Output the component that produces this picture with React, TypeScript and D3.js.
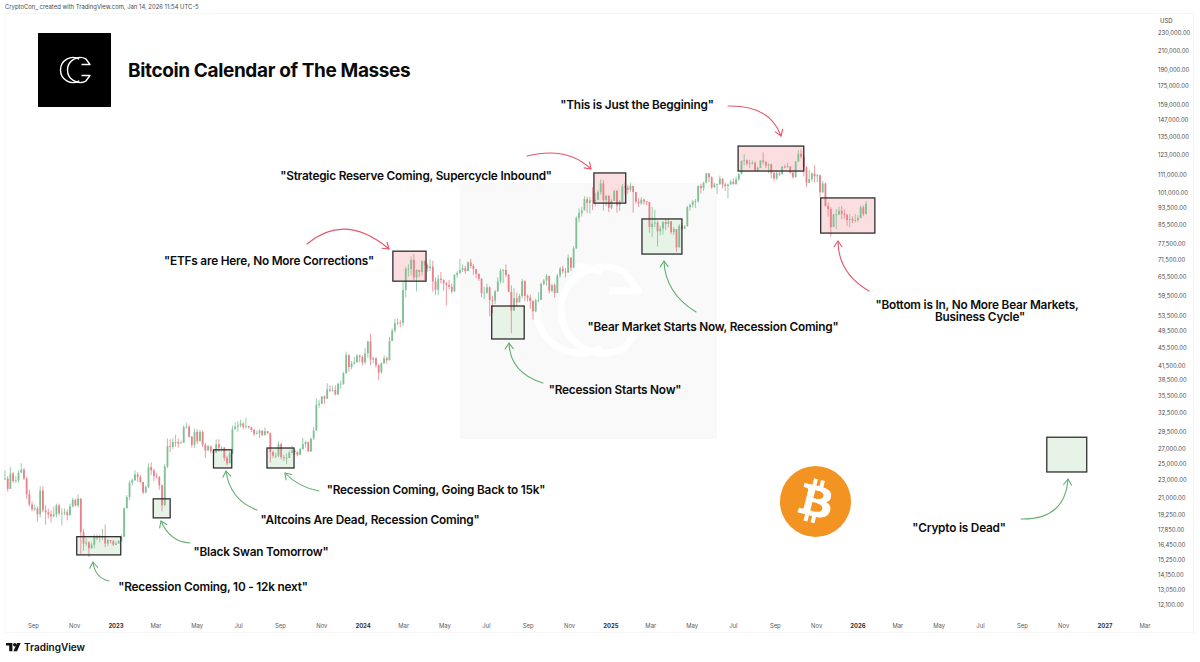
import * as d3 from 'd3';

// values in thousand USD, one bar every 4 days starting at firstBar
const firstBar = new Date(2022, 6, 21);

const closes = [
  23.2, 22.0, 23.8, 22.9, 23.0, 23.9, 24.3, 23.2, 21.4, 20.3,
  19.8, 19.9, 19.3, 21.8, 19.7, 19.5, 19.3, 19.1, 19.3, 20.2,
  19.4, 19.4, 19.5, 19.2, 20.1, 20.8, 20.2, 20.9, 17.6, 16.6,
  16.7, 16.2, 16.5, 17.2, 17.1, 17.2, 17.2, 16.6, 16.9, 16.8,
  16.5, 16.6, 16.8, 17.2, 19.9, 21.1, 22.7, 23.0, 23.7, 23.4,
  22.8, 21.6, 22.2, 24.6, 24.2, 23.5, 23.4, 22.4, 20.2, 24.7,
  27.4, 27.3, 28.0, 28.0, 27.8, 27.9, 30.2, 30.3, 28.8, 27.6,
  29.5, 28.1, 29.5, 27.6, 26.8, 27.4, 26.7, 26.5, 27.7, 27.2,
  27.2, 25.8, 25.1, 26.4, 29.9, 30.3, 30.5, 30.8, 30.3, 30.4,
  30.2, 29.8, 29.2, 29.3, 29.7, 29.0, 29.6, 29.3, 26.6, 26.1,
  26.1, 27.7, 25.9, 25.8, 25.8, 26.5, 26.8, 26.6, 26.2, 27.0,
  27.7, 28.0, 26.7, 28.5, 29.7, 33.9, 34.1, 35.4, 35.0, 36.7,
  36.5, 36.6, 35.8, 37.8, 37.8, 39.9, 43.8, 41.2, 41.9, 42.2,
  43.7, 43.4, 42.2, 44.2, 47.0, 42.8, 43.1, 41.6, 40.1, 42.0,
  43.1, 42.7, 47.1, 49.7, 51.6, 51.8, 51.7, 61.2, 68.3, 68.3,
  71.5, 65.3, 67.9, 67.2, 71.0, 69.6, 68.5, 69.1, 64.0, 61.3,
  64.9, 64.5, 63.4, 62.9, 62.3, 60.8, 66.2, 66.9, 67.9, 68.5,
  67.5, 70.6, 69.3, 68.2, 66.6, 64.9, 60.3, 60.4, 62.1, 58.2,
  58.0, 60.8, 64.0, 67.6, 67.9, 66.2, 60.7, 55.1, 58.7, 57.5,
  59.4, 64.1, 59.4, 58.9, 57.9, 54.9, 58.1, 58.2, 63.2, 64.3,
  65.8, 61.0, 62.8, 60.3, 66.0, 68.4, 67.4, 67.0, 72.3, 68.7,
  75.9, 88.7, 91.0, 92.3, 97.7, 95.9, 97.2, 96.9, 97.4, 101.4,
  106.0, 97.3, 99.4, 93.5, 96.9, 102.0, 94.7, 96.5, 104.4, 103.7,
  102.6, 104.7, 101.4, 96.5, 95.7, 97.5, 96.6, 96.3, 84.7, 86.2,
  86.7, 82.9, 84.0, 86.9, 86.0, 87.2, 82.5, 83.8, 76.3, 85.3,
  84.0, 85.0, 93.9, 95.0, 96.5, 96.8, 104.6, 103.5, 106.4, 111.7,
  109.4, 103.9, 105.4, 105.6, 108.6, 105.5, 104.6, 105.4, 107.0, 105.7,
  108.2, 111.2, 119.0, 119.5, 117.4, 117.6, 117.9, 113.3, 114.9, 119.3,
  118.4, 116.2, 116.9, 111.8, 108.8, 111.7, 111.1, 115.5, 115.4, 115.7,
  112.0, 109.6, 118.6, 123.5, 121.7, 115.2, 106.4, 108.4, 111.6, 110.0,
  110.6, 101.3, 106.0, 94.5, 92.9, 84.7, 90.4, 90.4, 92.1, 90.6,
  90.2, 87.8, 88.2, 87.6, 87.8, 88.7, 93.8, 90.5, 95.5,
];

const highs = [
  24.2, 23.5, 24.6, 24.0, 23.5, 24.2, 25.1, 24.5, 23.4, 21.9,
  20.6, 20.3, 20.1, 22.3, 22.3, 20.2, 19.9, 19.7, 20.1, 20.4,
  20.4, 19.9, 19.9, 19.8, 20.4, 21.0, 20.9, 21.4, 21.0, 17.9,
  17.1, 16.8, 16.7, 17.4, 17.4, 17.4, 17.9, 18.3, 17.0, 16.9,
  16.9, 16.8, 16.9, 17.4, 20.0, 21.3, 23.0, 23.2, 24.2, 24.0,
  23.6, 22.6, 22.4, 25.1, 25.2, 24.4, 23.9, 23.5, 22.5, 25.0,
  28.5, 28.4, 28.6, 29.1, 28.5, 28.2, 30.5, 30.9, 30.6, 28.9,
  30.0, 29.9, 29.8, 29.7, 27.9, 27.6, 27.5, 26.9, 28.4, 28.4,
  27.4, 27.3, 26.1, 26.7, 30.5, 31.0, 31.2, 31.4, 31.0, 31.7,
  30.4, 30.3, 30.0, 29.7, 29.9, 29.7, 30.2, 29.6, 29.4, 26.8,
  26.5, 28.1, 27.9, 26.2, 26.4, 26.8, 27.5, 27.0, 26.7, 27.2,
  28.6, 28.2, 28.1, 28.6, 30.2, 35.0, 34.8, 35.5, 35.6, 37.9,
  37.5, 37.4, 37.5, 38.0, 38.4, 40.2, 44.6, 44.0, 42.5, 43.4,
  44.0, 43.9, 43.8, 45.5, 47.2, 48.9, 43.5, 43.3, 41.8, 42.2,
  43.8, 43.5, 48.1, 50.2, 52.8, 52.9, 52.4, 63.8, 69.0, 69.9,
  72.8, 73.7, 68.2, 67.9, 71.6, 71.3, 70.3, 71.8, 71.2, 65.3,
  66.2, 67.2, 64.7, 63.9, 64.5, 63.4, 66.5, 67.5, 71.9, 69.9,
  69.4, 71.0, 71.9, 70.0, 67.9, 66.5, 65.0, 62.2, 63.2, 62.4,
  59.4, 61.3, 65.3, 68.4, 68.3, 69.9, 66.5, 62.7, 61.8, 60.5,
  60.0, 64.9, 64.4, 59.9, 59.8, 58.0, 58.6, 60.6, 63.6, 64.8,
  66.5, 66.0, 63.2, 63.4, 66.5, 69.0, 69.4, 68.5, 73.6, 72.6,
  76.8, 89.5, 93.3, 94.0, 99.2, 98.9, 98.8, 103.9, 101.0, 102.5,
  108.3, 107.8, 99.9, 99.9, 97.8, 102.7, 102.5, 97.3, 105.8, 106.9,
  105.2, 106.4, 102.5, 101.0, 98.2, 98.8, 98.0, 96.9, 96.5, 94.0,
  92.5, 87.5, 85.3, 87.4, 88.6, 88.4, 87.4, 84.7, 83.5, 85.9,
  86.4, 85.5, 94.5, 95.6, 97.4, 97.9, 104.9, 105.8, 107.0, 111.9,
  111.0, 110.0, 106.6, 106.0, 110.4, 108.9, 106.5, 106.0, 108.0, 108.8,
  109.7, 112.0, 119.4, 123.2, 120.0, 119.7, 119.2, 118.9, 115.5, 119.4,
  124.4, 119.0, 117.6, 117.4, 113.3, 113.4, 112.7, 116.0, 116.8, 117.9,
  116.0, 113.5, 119.0, 125.7, 126.2, 122.8, 115.9, 113.8, 112.2, 116.4,
  111.2, 110.9, 107.5, 106.5, 96.0, 93.8, 90.5, 92.9, 94.1, 94.5,
  92.8, 90.6, 90.5, 89.5, 90.5, 90.0, 94.7, 94.7, 96.8,
];

const lows = [
  23.0, 21.7, 22.0, 22.7, 22.7, 22.7, 23.9, 23.0, 20.9, 20.1,
  19.6, 19.6, 18.6, 19.0, 19.5, 18.3, 18.9, 18.5, 19.0, 19.0,
  19.2, 18.2, 19.2, 18.7, 19.2, 20.0, 20.1, 20.0, 15.7, 16.0,
  16.4, 15.5, 16.2, 16.2, 16.9, 16.7, 16.9, 16.3, 16.4, 16.6,
  16.4, 16.5, 16.6, 16.8, 17.3, 20.4, 20.8, 22.4, 22.9, 22.8,
  22.7, 21.4, 21.5, 22.1, 23.6, 22.9, 23.2, 21.9, 19.6, 20.3,
  24.5, 26.6, 27.0, 27.3, 27.2, 27.8, 28.0, 30.0, 28.6, 27.2,
  27.2, 27.7, 28.1, 27.3, 25.8, 26.8, 26.4, 26.3, 26.5, 26.6,
  26.7, 25.4, 24.8, 25.2, 26.3, 29.9, 29.5, 30.2, 29.9, 30.0,
  30.0, 29.5, 28.9, 29.1, 28.6, 28.9, 29.0, 29.2, 25.2, 25.8,
  25.8, 25.9, 25.6, 25.4, 25.0, 25.8, 26.4, 26.2, 26.0, 26.5,
  26.9, 27.2, 26.6, 26.6, 28.3, 29.8, 33.4, 34.1, 34.1, 35.0,
  36.2, 36.3, 35.6, 35.6, 36.8, 37.6, 39.8, 40.2, 40.7, 41.7,
  42.2, 42.2, 41.5, 41.8, 43.2, 41.6, 42.0, 41.1, 38.5, 39.8,
  41.9, 41.9, 42.6, 47.7, 49.2, 51.0, 50.6, 50.9, 59.0, 65.6,
  66.0, 64.5, 60.8, 65.5, 66.0, 64.5, 67.3, 67.5, 60.7, 59.7,
  59.6, 63.3, 61.0, 56.5, 61.5, 60.2, 60.7, 65.1, 66.5, 67.2,
  66.6, 67.5, 68.5, 66.2, 65.1, 64.2, 59.0, 58.4, 60.0, 53.5,
  54.3, 57.0, 60.7, 63.3, 63.5, 65.5, 60.7, 49.0, 55.0, 56.2,
  57.8, 58.7, 57.9, 57.7, 55.6, 52.6, 54.6, 57.5, 59.2, 62.7,
  62.6, 60.2, 60.5, 58.9, 60.3, 65.2, 66.6, 65.3, 67.6, 67.5,
  68.5, 75.6, 86.7, 89.4, 92.6, 91.0, 90.8, 92.5, 94.2, 97.3,
  100.0, 92.2, 94.4, 91.5, 92.8, 97.0, 91.2, 92.0, 96.8, 100.0,
  100.5, 101.5, 91.2, 95.7, 94.0, 94.9, 95.1, 94.8, 82.2, 80.5,
  84.7, 76.6, 81.2, 81.5, 83.5, 84.6, 81.6, 81.3, 74.5, 78.9,
  83.2, 83.9, 85.0, 92.2, 93.6, 93.5, 96.0, 100.7, 102.0, 106.1,
  106.7, 103.1, 103.7, 100.4, 105.2, 103.4, 102.0, 98.2, 106.8, 105.3,
  105.2, 107.4, 111.3, 116.3, 116.3, 114.7, 116.9, 112.7, 112.7, 114.9,
  117.0, 114.7, 111.7, 108.7, 107.3, 108.0, 110.0, 111.0, 114.5, 115.0,
  111.5, 108.6, 109.0, 118.5, 120.5, 110.0, 104.0, 106.1, 107.0, 106.5,
  106.7, 99.0, 100.8, 94.0, 89.3, 80.6, 86.2, 83.9, 90.1, 88.1,
  88.5, 85.3, 84.5, 86.4, 86.7, 87.0, 90.0, 89.6, 90.5,
];

const priceTicks = [
  230000, 210000, 190000, 175000, 159000, 147000, 135000, 123000, 111000, 101000,
  93500, 85500, 77500, 71500, 65500, 59500, 53500, 49500, 45500, 41500,
  38500, 35500, 32500, 29500, 27000, 25000, 23000, 21000, 19250, 17850,
  16450, 15250, 14150, 13050, 12100,
];

const monthTicks = [
  '2022-09', '2022-11', '2023-01', '2023-03', '2023-05', '2023-07', '2023-09', '2023-11',
  '2024-01', '2024-03', '2024-05', '2024-07', '2024-09', '2024-11',
  '2025-01', '2025-03', '2025-05', '2025-07', '2025-09', '2025-11',
  '2026-01', '2026-03', '2026-05', '2026-07', '2026-09', '2026-11',
  '2027-01', '2027-03',
];

// the calendar boxes, in date and price
const boxStarts = ['2022-11-04', '2023-02-25', '2023-05-25', '2023-08-12', '2024-02-14', '2024-07-09', '2024-12-07', '2025-02-16', '2025-07-08', '2025-11-07', '2026-10-07'];
const boxEnds = ['2023-01-08', '2023-03-22', '2023-06-21', '2023-09-21', '2024-04-03', '2024-08-26', '2025-01-23', '2025-04-16', '2025-10-13', '2026-01-26', '2026-12-05'];
const boxTops = [17200, 20900, 26900, 27150, 74800, 56400, 111900, 88300, 128500, 98400, 28700];
const boxBottoms = [15660, 18950, 24500, 24500, 64100, 47600, 95800, 73700, 113000, 82100, 24000];
const boxTones = ['fear', 'fear', 'fear', 'fear', 'greed', 'fear', 'greed', 'fear', 'greed', 'greed', 'fear'];

const GREEN = '#62ad72';
const RED = '#e4566a';
const UP = '#7fc095';
const DOWN = '#e9808a';
const FONT = 'Inter, "Noto Sans", sans-serif';

const parseMonth = d3.timeParse('%Y-%m');
const parseDay = d3.timeParse('%Y-%m-%d');

const x = d3.scaleTime().domain([new Date(2023, 0, 1), new Date(2027, 0, 1)]).range([116, 1105]);
const y = d3.scaleLog().domain([230000, 12100]).range([33, 605]);

const fmtPrice = d3.format(',.2f');
const fmtMonth = d3.timeFormat('%b');

// curved arrows: [startX, startY, controlX, controlY, tipX, tipY]
const arrows: { pts: number[]; color: string }[] = [
  { pts: [109, 581, 95, 578, 93, 562], color: GREEN },
  { pts: [190, 543, 170, 542, 161, 521], color: GREEN },
  { pts: [257, 510, 230, 500, 226, 471], color: GREEN },
  { pts: [319, 491, 298, 487, 285, 473], color: GREEN },
  { pts: [307, 244, 345, 212, 389, 249], color: RED },
  { pts: [543, 383, 510, 373, 509, 343], color: GREEN },
  { pts: [527, 156, 567, 146, 591, 169], color: RED },
  { pts: [696, 312, 665, 293, 664, 261], color: GREEN },
  { pts: [728, 106, 770, 105, 781, 136], color: RED },
  { pts: [869, 291, 838, 273, 838, 241], color: RED },
  { pts: [1021, 519, 1065, 520, 1068, 479], color: GREEN },
];

const labels: { lines: string[]; x: number; y: number }[] = [
  { lines: ['"Recession Coming, 10 - 12k next"'], x: 213, y: 591 },
  { lines: ['"Black Swan Tomorrow"'], x: 261, y: 556 },
  { lines: ['"Altcoins Are Dead, Recession Coming"'], x: 370, y: 524 },
  { lines: ['"Recession Coming, Going Back to 15k"'], x: 436, y: 494 },
  { lines: ['"ETFs are Here, No More Corrections"'], x: 269, y: 265 },
  { lines: ['"Recession Starts Now"'], x: 615, y: 394 },
  { lines: ['"Strategic Reserve Coming, Supercycle Inbound"'], x: 416, y: 180 },
  { lines: ['"Bear Market Starts Now, Recession Coming"'], x: 713, y: 331 },
  { lines: ['"This is Just the Beggining"'], x: 637, y: 109 },
  { lines: ['"Bottom is In, No More Bear Markets,', 'Business Cycle"'], x: 977, y: 309 },
  { lines: ['"Crypto is Dead"'], x: 959, y: 532 },
];

function arrowHead(p: number[]) {
  const [, , cx, cy, tx, ty] = p;
  const a = Math.atan2(ty - cy, tx - cx);
  const s = 7;
  const l = a + Math.PI - 0.6;
  const r = a + Math.PI + 0.6;
  return `M${tx + s * Math.cos(l)},${ty + s * Math.sin(l)}L${tx},${ty}L${tx + s * Math.cos(r)},${ty + s * Math.sin(r)}`;
}

// the CryptoCon mark, drawn around 0,0
function CCMark({ k, color, w }: { k: number; color: string; w: number }) {
  const rad = Math.PI / 180;
  const left = d3.path();
  left.arc(0, 0, 12.5, -60 * rad, 60 * rad, true);
  const right = d3.path();
  right.moveTo(8.5, -5.5);
  right.lineTo(17, -5.5);
  right.lineTo(7 + 12.5 * Math.cos(62 * rad), -12.5 * Math.sin(62 * rad));
  right.arc(7, 0, 12.5, -62 * rad, 62 * rad, true);
  right.lineTo(17, 5.5);
  right.lineTo(8.5, 5.5);
  return (
    <g transform={`scale(${k})`} fill="none" stroke={color} strokeWidth={w} strokeLinejoin="round">
      <path d={left.toString()} />
      <path d={right.toString()} />
    </g>
  );
}

export default function App() {
  const bars = closes.map((c, i) => {
    const open = i === 0 ? c : closes[i - 1];
    return {
      date: d3.timeDay.offset(firstBar, i * 4),
      open,
      close: c,
      high: Math.max(highs[i], open, c),
      low: Math.min(lows[i], open, c),
    };
  });

  const link = d3.line();

  return (
    <svg
      width={1200}
      height={662}
      style={{ position: 'absolute', left: 0, top: 0, background: '#fff', fontFamily: FONT }}
    >
      {/* frame */}
      <path d="M5,13.5H1193.5V632.5H5Z" fill="none" stroke="#f6f6f6" strokeWidth={1} />
      <text x={5} y={9} fontSize={5.9} fill="#4a4a4a">
        CryptoCon_ created with TradingView.com, Jan 14, 2026 11:54 UTC-5
      </text>

      {/* watermark panel */}
      <rect x={460} y={183} width={257} height={256} fill="#f9f9f9" />
      <g transform="translate(580,310)">
        <CCMark k={3.45} color="#ffffff" w={2} />
      </g>

      {/* box fills sit under the candles */}
      {boxStarts.map((s, i) => (
        <rect
          key={s}
          x={x(parseDay(s)!)}
          y={y(boxTops[i])}
          width={x(parseDay(boxEnds[i])!) - x(parseDay(s)!)}
          height={y(boxBottoms[i]) - y(boxTops[i])}
          fill={boxTones[i] === 'greed' ? '#fbdfe0' : '#e8f3e8'}
        />
      ))}

      {/* candles */}
      {bars.map((b) => {
        const cx = x(b.date);
        const color = b.close >= b.open ? UP : DOWN;
        const top = y(Math.max(b.open, b.close) * 1000);
        const bottom = y(Math.min(b.open, b.close) * 1000);
        return (
          <g key={+b.date} stroke={color} fill={color}>
            <path d={link([[cx, y(b.high * 1000)], [cx, y(b.low * 1000)]])!} strokeWidth={0.8} fill="none" />
            <rect x={cx - 0.9} y={top} width={1.8} height={Math.max(bottom - top, 0.8)} strokeWidth={0} />
          </g>
        );
      })}

      {/* box outlines */}
      {boxStarts.map((s, i) => (
        <rect
          key={s}
          x={x(parseDay(s)!)}
          y={y(boxTops[i])}
          width={x(parseDay(boxEnds[i])!) - x(parseDay(s)!)}
          height={y(boxBottoms[i]) - y(boxTops[i])}
          fill="none"
          stroke="#2f2f2f"
          strokeWidth={1.3}
        />
      ))}

      {/* arrows */}
      {arrows.map(({ pts, color }) => {
        const path = d3.path();
        path.moveTo(pts[0], pts[1]);
        path.quadraticCurveTo(pts[2], pts[3], pts[4], pts[5]);
        return (
          <g key={pts.join()} fill="none" stroke={color} strokeWidth={1.1} strokeLinecap="round" strokeLinejoin="round">
            <path d={path.toString()} />
            <path d={arrowHead(pts)} />
          </g>
        );
      })}

      {/* quotes */}
      {labels.map((l) => (
        <text key={l.lines[0]} x={l.x} y={l.y} textAnchor="middle" fontSize={11.8} letterSpacing={-0.2} fontWeight={600} fill="#0c0c0c">
          {l.lines.map((t, i) => (
            <tspan key={t} x={l.x + (i === 0 ? 0 : 3)} dy={i === 0 ? 0 : 12}>
              {t}
            </tspan>
          ))}
        </text>
      ))}

      {/* logo and title */}
      <rect x={38} y={33} width={73} height={74} fill="#000" />
      <g transform="translate(73,70)">
        <CCMark k={1} color="#fff" w={1.4} />
      </g>
      <text x={128} y={77} fontSize={19} letterSpacing={-0.37} fontWeight={700} fill="#0a0a0a">
        Bitcoin Calendar of The Masses
      </text>

      {/* bitcoin coin */}
      <g transform="translate(815.5,501.5) scale(1.11) translate(-32,-32)">
        <circle cx={32} cy={32} r={32} fill="#f39321" />
        <path
          fill="#fff"
          d="M46.103 27.444c.637-4.258-2.605-6.547-7.038-8.074l1.438-5.768-3.511-.875-1.4 5.616c-.923-.23-1.871-.447-2.813-.662l1.41-5.653-3.509-.875-1.439 5.766c-.764-.174-1.514-.346-2.242-.527l.004-.018-4.842-1.209-.934 3.75s2.605.597 2.55.634c1.422.355 1.679 1.296 1.636 2.042l-1.638 6.571c.098.025.225.061.365.117l-.371-.092-2.297 9.205c-.174.432-.615 1.08-1.609.834.035.051-2.552-.637-2.552-.637l-1.743 4.02 4.57 1.139c.85.213 1.683.436 2.502.646l-1.453 5.835 3.507.875 1.44-5.772c.958.26 1.888.5 2.798.726l-1.434 5.745 3.511.875 1.453-5.823c5.987 1.133 10.489.676 12.384-4.739 1.527-4.36-.076-6.875-3.226-8.515 2.294-.529 4.022-2.038 4.483-5.155zM38.081 38.693c-1.085 4.36-8.426 2.003-10.806 1.412l1.928-7.729c2.38.594 10.012 1.77 8.878 6.317zm1.086-11.312c-.99 3.966-7.1 1.951-9.082 1.457l1.748-7.01c1.982.494 8.365 1.416 7.334 5.553z"
        />
      </g>

      {/* price axis */}
      <text x={1160} y={23} fontSize={5.9} fill="#3c3c3c">USD</text>
      {priceTicks.map((p) => (
        <text key={p} x={1158} y={y(p) + 2.1} fontSize={5.9} fill="#4a4a4a">
          {fmtPrice(p)}
        </text>
      ))}

      {/* time axis */}
      {monthTicks.map((m) => {
        const d = parseMonth(m)!;
        const isYear = d.getMonth() === 0;
        return (
          <text
            key={m}
            x={x(d)}
            y={628}
            textAnchor="middle"
            fontSize={5.9}
            fontWeight={isYear ? 700 : 400}
            fill={isYear ? '#333' : '#5a5a5a'}
          >
            {isYear ? d.getFullYear() : fmtMonth(d)}
          </text>
        );
      })}

      {/* TradingView sign-off */}
      <g fill="#111">
        <path d="M6,643H12.4V651.2H9.2V645.6H6Z" />
        <circle cx={14.7} cy={644.8} r={1.7} />
        <path d="M17,643H20.6L17,651.2H13.4Z" />
      </g>
      <text x={24} y={651} fontSize={10} fontWeight={600} fill="#111">TradingView</text>
    </svg>
  );
}
